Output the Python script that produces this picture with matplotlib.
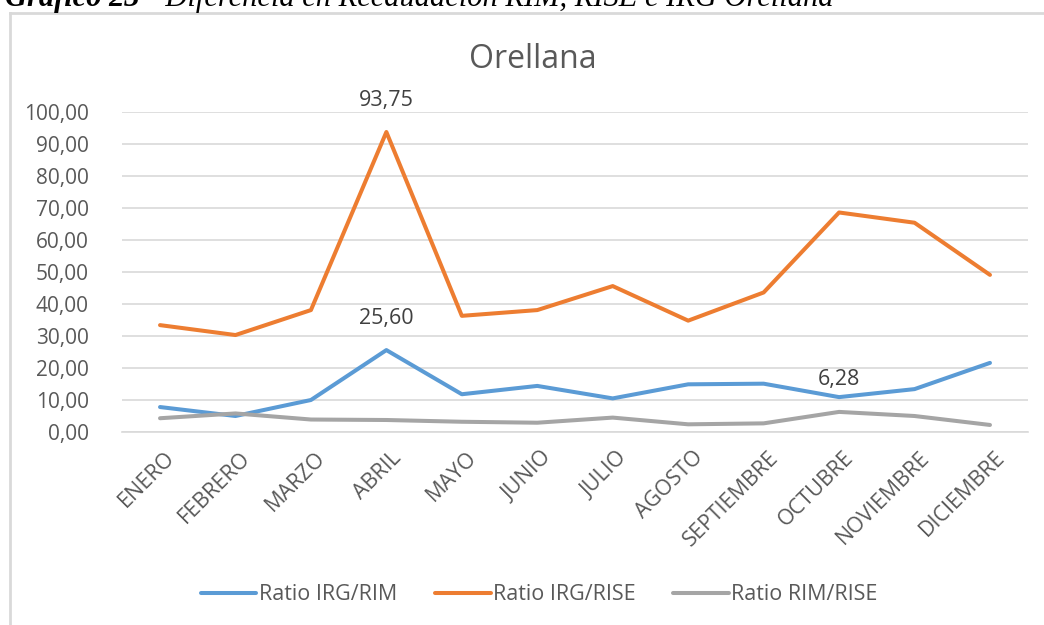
import matplotlib
matplotlib.use("Agg")
from matplotlib import pyplot as plt
from matplotlib.lines import Line2D
from matplotlib.ticker import FuncFormatter, MultipleLocator

# ========== DATA ==========
months = ["ENERO", "FEBRERO", "MARZO", "ABRIL", "MAYO", "JUNIO", "JULIO",
          "AGOSTO", "SEPTIEMBRE", "OCTUBRE", "NOVIEMBRE", "DICIEMBRE"]
irg_rim = [7.8, 5.0, 10.0, 25.60, 11.8, 14.4, 10.5, 14.9, 15.1, 10.9, 13.4, 21.6]
irg_rise = [33.4, 30.3, 38.1, 93.75, 36.3, 38.1, 45.6, 34.8, 43.6, 68.6, 65.4, 49.1]
rim_rise = [4.3, 5.8, 3.9, 3.75, 3.2, 2.9, 4.5, 2.4, 2.7, 6.28, 5.0, 2.2]

series = [("Ratio IRG/RIM", irg_rim, "#5B9BD5"),
          ("Ratio IRG/RISE", irg_rise, "#ED7D31"),
          ("Ratio RIM/RISE", rim_rise, "#A5A5A5")]

# labelled points: (series index, month index)
labelled = [(1, 3), (0, 3), (2, 9)]

# ========== CONFIG ==========
plt.rcParams["font.family"] = ["Open Sans", "DejaVu Sans"]
W, H = 1044, 625
fig = plt.figure(figsize=(W / 100, H / 100), dpi=100)
ax = fig.add_axes([122.3 / W, 1 - 432 / H, (1027.7 - 122.3) / W, 320 / H])

x = list(range(len(months)))
for name, vals, col in series:
    ax.plot(x, vals, color=col, lw=2.9, label=name,
            solid_capstyle="round", solid_joinstyle="round", zorder=3)

for si, mi in labelled:
    v = series[si][1][mi]
    ax.annotate(f"{v:.2f}".replace(".", ","), (mi, v), xytext=(0, 23),
                textcoords="offset points", ha="center", va="center",
                fontsize=15.5, color="#404040", zorder=4)

ax.set_xlim(-0.5, len(months) - 0.5)
ax.set_ylim(0, 100)
ax.yaxis.set_major_locator(MultipleLocator(10))
ax.yaxis.set_major_formatter(FuncFormatter(lambda v, p: f"{v:.2f}".replace(".", ",")))
ax.grid(axis="y", color="#D9D9D9", lw=1.2, zorder=0)
ax.set_axisbelow(True)
for s in ["top", "right", "left"]:
    ax.spines[s].set_visible(False)
ax.spines["bottom"].set_color("#D9D9D9")
ax.spines["bottom"].set_linewidth(1.2)
ax.tick_params(axis="both", length=0, colors="#595959", labelsize=15)
ax.tick_params(axis="y", pad=24)
ax.set_xticks(x)
ax.set_xticklabels(months, rotation=45, ha="right", va="top",
                   rotation_mode="anchor", fontsize=15.5)
ax.tick_params(axis="x", pad=11)
for lbl in ax.get_xticklabels():
    lbl.set_transform(lbl.get_transform() + matplotlib.transforms.ScaledTranslation(4 / 100, 0, fig.dpi_scale_trans))

fig.text(533 / W, 1 - 59 / H, "Orellana", ha="center", va="center",
         fontsize=23, color="#595959")

fig.legend(loc="center", bbox_to_anchor=(539 / W, 1 - 595 / H), ncol=3,
           frameon=False, fontsize=15.5, handlelength=2.6, handletextpad=0.1,
           columnspacing=1.75, labelcolor="#595959")

# chart border (only top/left visible in the crop)
fig.add_artist(Line2D([10 / W, 1], [1 - 13 / H, 1 - 13 / H], color="#D9D9D9", lw=2))
fig.add_artist(Line2D([10 / W, 10 / W], [0, 1 - 13 / H], color="#D9D9D9", lw=2))

# caption, cut at the top of the picture as in the source
r = fig.canvas.get_renderer()
t1 = fig.text(5 / W, 1 - 6 / H, "Gráfico 23", fontsize=22, family="Liberation Serif",
              style="italic", weight="bold", va="baseline")
bb = t1.get_window_extent(r)
fig.text(bb.x1 / W, 1 - 6 / H, " - Diferencia en Recaudación RIM, RISE e IRG Orellana",
         fontsize=22, family="Liberation Serif", style="italic", va="baseline")

fig.savefig("out.png", dpi=100)
